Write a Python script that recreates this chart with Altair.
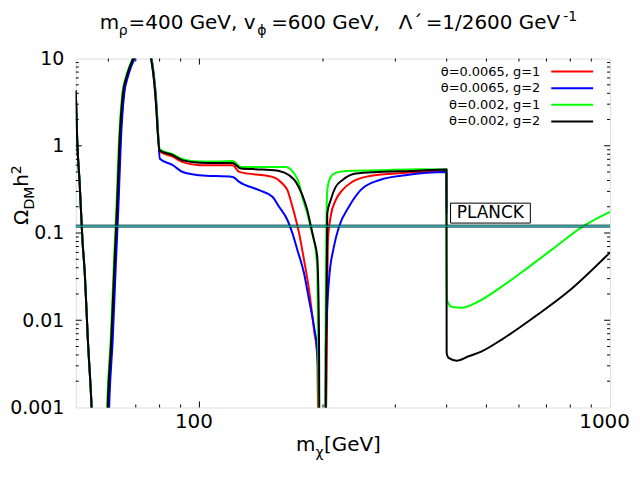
import altair as alt
import pandas as pd

FONT = "DejaVu Sans"
W, H = 536, 350
PAD_L, PAD_T = 68, 50

# ---------------- data ----------------
m_red = [50, 50.4, 51.1, 51.9, 52.6, 53.5, 54.5, 55.0,
         59.7, 60.1, 61.2, 62.4, 63.3, 64.2, 65.4, 66.7, 67.9, 69.2, 70.3, 72.0,
         75.5, 76.3, 77.7, 78.5, 79.2, 80.0, 86.1, 91.1, 100, 110, 120.5, 125.0, 150.6, 159.2, 163.8,
         168.5, 174.9, 179.8, 184.9, 190.1, 193.6, 195.0,
         203.2, 205.6, 208.7, 214.7, 222.8, 235.6, 253.9, 300.1, 399.5, 400.0]
o_red = [4.3, 1.16, 0.372, 0.083, 0.034, 0.006, 0.0013, 0.0005,
         0.0005, 0.0013, 0.006, 0.053, 0.20, 1.16, 3.95, 6.1, 7.95, 10, 13, 20,
         13, 10, 5.14, 2.78, 1.39, 0.86, 0.75, 0.65, 0.60, 0.598, 0.598, 0.502, 0.44, 0.37, 0.31,
         0.2, 0.099, 0.0491, 0.0223, 0.0078, 0.0039, 0.0005,
         0.0005, 0.083, 0.154, 0.238, 0.31, 0.386, 0.44, 0.481, 0.515, 0.2]

m_blue = [50, 50.4, 51.1, 51.9, 52.6, 53.5, 54.5, 55.0,
          60.0, 60.4, 61.5, 62.7, 63.5, 64.4, 65.6, 66.9, 68.1, 69.5, 70.6, 72.0,
          75.7, 76.5, 77.9, 78.7, 79.4, 80.1, 86.1, 91.1, 100, 120.5, 125.0, 139.8, 150.6, 156.3, 163.8,
          168.5, 173.2, 179.8, 184.9, 190.1, 193.6, 195.5, 196.0,
          202.8, 203.0, 206.8, 212.6, 218.7, 231.2, 246.9, 273.5, 317.4, 399.5, 400.0]
o_blue = [4.3, 1.16, 0.372, 0.083, 0.034, 0.006, 0.0013, 0.0005,
          0.0005, 0.0013, 0.006, 0.053, 0.20, 1.16, 3.95, 6.1, 7.95, 10, 13, 20,
          13, 10, 5.14, 2.78, 1.3, 0.71, 0.60, 0.50, 0.46, 0.44, 0.386, 0.31, 0.26, 0.2, 0.141,
          0.099, 0.064, 0.0346, 0.0171, 0.0085, 0.0043, 0.00123, 0.0005,
          0.0005, 0.0046, 0.029, 0.0697, 0.118, 0.2, 0.31, 0.403, 0.46, 0.50, 0.165]

m_green = [50, 50.4, 51.1, 51.9, 52.6, 53.5, 54.5, 55.0,
           59.3, 59.7, 60.8, 62.0, 62.8, 63.7, 64.9, 66.2, 67.4, 68.7, 69.8, 72.0,
           75.6, 76.4, 77.8, 78.6, 79.3, 80.1, 86.1, 91.1, 100, 110, 120.5, 126.2, 162.3, 170.1, 174.9,
           178.0, 183.0, 188.0, 191.9, 193.6, 194.6, 195.5,
           202.5, 203.0, 204.8, 208.7, 214.7, 227.0, 273.5, 340, 399.5,
           400.0, 400.5, 411.8, 435.5, 478, 544.6, 620.5, 720, 868, 1000]
o_green = [4.3, 1.16, 0.372, 0.083, 0.034, 0.006, 0.0013, 0.0005,
           0.0005, 0.0013, 0.006, 0.053, 0.20, 1.16, 3.95, 6.1, 7.95, 10, 13, 20,
           13, 10, 5.14, 2.78, 1.39, 0.91, 0.80, 0.70, 0.66, 0.66, 0.67, 0.573, 0.573, 0.481, 0.37,
           0.26, 0.169, 0.1, 0.064, 0.0378, 0.0072, 0.0005,
           0.0005, 0.0144, 0.31, 0.44, 0.489, 0.515, 0.525, 0.54, 0.535,
           0.041, 0.0171, 0.0142, 0.0139, 0.0164, 0.0243, 0.0378, 0.064, 0.123, 0.175]

m_black = [50, 50.4, 51.1, 51.9, 52.6, 53.5, 54.5, 55.0,
           59.5, 59.9, 61.0, 62.2, 63.0, 63.9, 65.1, 66.4, 67.6, 68.9, 70.0, 72.0,
           75.5, 76.3, 77.7, 78.5, 79.2, 80.0, 86.1, 91.1, 100, 110, 120.5, 126.2, 142.5, 156.3, 165.4,
           171.7, 178.1, 183.1, 186.6, 190.1, 193.6, 195.5, 196.0,
           202.5, 203.0, 204.8, 208.7, 214.7, 222.8, 240.1, 273.5, 329.4, 399.5,
           400.0, 404.3, 423.6, 452, 487, 544.6, 656, 791, 1000]
o_black = [4.3, 1.16, 0.372, 0.083, 0.034, 0.006, 0.0013, 0.0005,
           0.0005, 0.0013, 0.006, 0.053, 0.20, 1.16, 3.95, 6.1, 7.95, 10, 13, 20,
           13, 10, 5.14, 2.78, 1.39, 0.89, 0.78, 0.68, 0.64, 0.635, 0.636, 0.548, 0.535, 0.515, 0.46,
           0.386, 0.272, 0.183, 0.123, 0.083, 0.0536, 0.0072, 0.0005,
           0.0005, 0.001, 0.168, 0.238, 0.338, 0.403, 0.481, 0.502, 0.515, 0.535,
           0.0042, 0.0037, 0.00344, 0.00386, 0.0044, 0.006, 0.011, 0.0213, 0.06]

series_labels = ["θ=0.0065, g=1", "θ=0.0065, g=2", "θ=0.002, g=1", "θ=0.002, g=2"]
series_colors = ["#ff0000", "#0000ff", "#00ff00", "#000000"]
series_m = [m_red, m_blue, m_green, m_black]
series_o = [o_red, o_blue, o_green, o_black]

planck_center = [0.1199]
planck_edges = [0.1168, 0.1232]
planck_box_m = [408.8, 639.5]
planck_box_o = [0.130, 0.220]
planck_text_pos = [511, 0.1693]

x_major = [100]
x_minor = [60, 70, 80, 90, 200, 300, 400, 500, 600, 700, 800, 900]
x_labels = [100, 1000]
y_major = [0.01, 0.1, 1]
y_minor = [k * d for d in [0.001, 0.01, 0.1, 1] for k in range(2, 10)]
y_labels = [0.001, 0.01, 0.1, 1, 10]

# ---------------- scales / axes ----------------
xs = alt.Scale(type="log", domain=[50, 1000], nice=False)
ys = alt.Scale(type="log", domain=[0.001, 10], nice=False)
xaxis = alt.Axis(values=x_labels, format="~g", title=None, domain=False, ticks=False, tickSize=0,
                 grid=False, labelFont=FONT, labelFontSize=20, labelColor="black",
                 labelPadding=4, labelOffset=-6, labelFlush=False, labelOverlap=False)
yaxis = alt.Axis(values=y_labels, format="~g", title=None, domain=False, ticks=False, tickSize=0,
                 grid=False, labelFont=FONT, labelFontSize=19, labelColor="black",
                 labelPadding=12, labelFlush=False, labelOverlap=False)


def X(field="m"):
    return alt.X(f"{field}:Q", scale=xs, axis=xaxis)


def Y(field="o"):
    return alt.Y(f"{field}:Q", scale=ys, axis=yaxis)


def sx(px):  # screen x -> plot-relative
    return px - (8 + PAD_L)


def sy(py):
    return py - (8 + PAD_T)


dummy = pd.DataFrame({"a": [0]})
layers = []

# curves
for m, o, col in zip(series_m, series_o, series_colors):
    df = pd.DataFrame({"m": m, "o": o})
    layers.append(alt.Chart(df).mark_line(color=col, strokeWidth=2, clip=True, interpolate="monotone")
                  .encode(x=X(), y=Y(), order="m:Q"))

# Planck band
layers.append(alt.Chart(pd.DataFrame({"o": planck_center})).mark_rule(color="#00e8e8", strokeWidth=1.4)
              .encode(y=Y(), x=alt.value(0), x2=alt.value(W)))
layers.append(alt.Chart(pd.DataFrame({"o": planck_edges})).mark_rule(color="#002828", strokeWidth=0.9)
              .encode(y=Y(), x=alt.value(0), x2=alt.value(W)))

# PLANCK box + text
layers.append(alt.Chart(pd.DataFrame({"m": [planck_box_m[0]], "m2": [planck_box_m[1]],
                                      "o": [planck_box_o[0]], "o2": [planck_box_o[1]]}))
              .mark_rect(fillOpacity=0, stroke="black", strokeWidth=1)
              .encode(x=X(), x2="m2:Q", y=Y(), y2="o2:Q"))
layers.append(alt.Chart(pd.DataFrame({"m": [planck_text_pos[0]], "o": [planck_text_pos[1]], "t": ["PLANCK"]}))
              .mark_text(font=FONT, fontSize=17, color="black", align="center", baseline="middle")
              .encode(x=X(), y=Y(), text="t:N"))

# ticks (inward, on all four sides)
for vals, ln in [(x_major, 6), (x_minor, 3)]:
    base = alt.Chart(pd.DataFrame({"m": vals})).mark_rule(color="black", strokeWidth=1)
    layers.append(base.encode(x=X(), y=alt.value(H), y2=alt.value(H - ln)))
    layers.append(base.encode(x=X(), y=alt.value(0), y2=alt.value(ln)))
for vals, ln in [(y_major, 6), (y_minor, 3)]:
    base = alt.Chart(pd.DataFrame({"o": vals})).mark_rule(color="black", strokeWidth=1)
    layers.append(base.encode(y=Y(), x=alt.value(0), x2=alt.value(ln)))
    layers.append(base.encode(y=Y(), x=alt.value(W), x2=alt.value(W - ln)))

# legend (text left of line sample, gnuplot style)
for i, (lab, col) in enumerate(zip(series_labels, series_colors)):
    yy = sy(71 + i * 16.7)
    layers.append(alt.Chart(dummy).mark_text(font=FONT, fontSize=13, color="black", align="right",
                                             baseline="middle")
                  .encode(x=alt.value(sx(542)), y=alt.value(yy), text=alt.value(lab)))
    layers.append(alt.Chart(dummy).mark_rule(color=col, strokeWidth=2)
                  .encode(x=alt.value(sx(553)), x2=alt.value(sx(595)), y=alt.value(yy)))


def txt(s, x, y, size, angle=0):
    return (alt.Chart(dummy)
            .mark_text(font=FONT, fontSize=size, color="black", align="left", baseline="alphabetic",
                       angle=angle)
            .encode(x=alt.value(x), y=alt.value(y), text=alt.value(s)))


# title pieces
TB = 28
title_pieces = [("m", 100, 20, 0), ("ρ", 119, 14, 6), ("=400 GeV, v", 129, 20, 0), ("ϕ", 258, 14, 6),
                ("=600 GeV,", 272, 20, 0), ("Λ´", 400, 20, 0), ("=1/2600 GeV", 427, 20, 0),
                ("-1", 565, 14, -8)]
for s, x, size, dy in title_pieces:
    layers.append(txt(s, sx(x), sy(TB + dy), size))

# x-axis title
xt_pieces = [("m", 297, 20, 0), ("χ", 316.5, 14, 6), ("[GeV]", 325, 20, 0)]
for s, x, size, dy in xt_pieces:
    layers.append(txt(s, sx(x), sy(452 + dy), size))

# y-axis title (rotated)
yt_pieces = [("Ω", 28, 225, 20), ("DM", 34, 209.5, 14), ("h", 28, 186.5, 20), ("2", 21, 174, 14)]
for s, x, y, size in yt_pieces:
    layers.append(txt(s, sx(x), sy(y), size, angle=270))

chart = (alt.layer(*layers)
         .properties(width=W, height=H, autosize=alt.AutoSizeParams(type="none"),
                     padding={"left": PAD_L, "top": PAD_T, "right": 22, "bottom": 60})
         .configure_view(stroke="black", strokeWidth=1)
         .configure(background="white"))

chart.save("out.html", embed_options={"renderer": "svg", "actions": False})
